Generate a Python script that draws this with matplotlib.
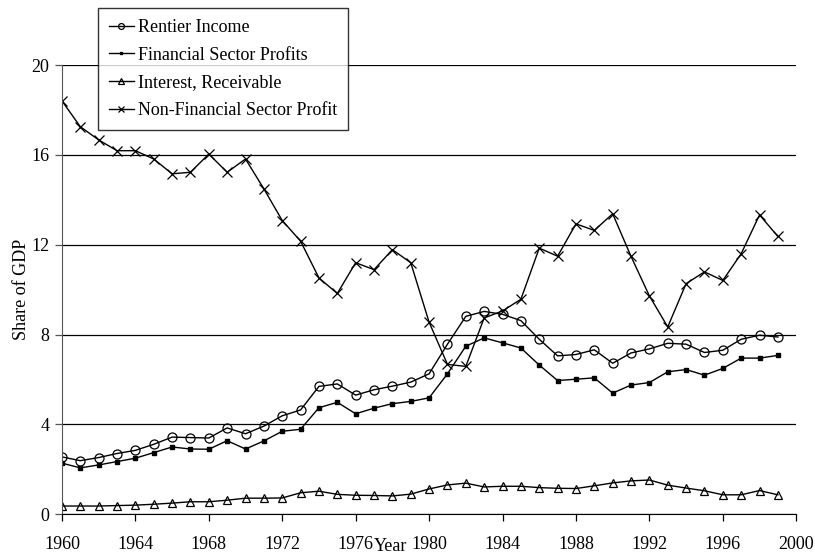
import matplotlib
matplotlib.use("Agg")
import matplotlib.pyplot as plt

plt.rcParams['font.family'] = ['Liberation Serif', 'DejaVu Serif']

years = list(range(1960, 2000))

rentier = [2.55, 2.38, 2.52, 2.70, 2.84, 3.11, 3.43, 3.41, 3.39, 3.84,
           3.58, 3.92, 4.38, 4.64, 5.69, 5.80, 5.30, 5.54, 5.70, 5.88,
           6.25, 7.57, 8.81, 9.03, 8.90, 8.62, 7.79, 7.05, 7.11, 7.32,
           6.72, 7.18, 7.36, 7.61, 7.57, 7.20, 7.30, 7.79, 7.97, 7.89]

financial = [2.27, 2.06, 2.19, 2.34, 2.49, 2.74, 2.99, 2.90, 2.89, 3.27,
             2.90, 3.26, 3.69, 3.78, 4.74, 4.98, 4.47, 4.72, 4.92, 5.02,
             5.18, 6.25, 7.48, 7.85, 7.63, 7.40, 6.64, 5.95, 6.01, 6.07,
             5.39, 5.75, 5.86, 6.34, 6.44, 6.19, 6.49, 6.95, 6.95, 7.07]

interest = [0.36, 0.36, 0.36, 0.38, 0.40, 0.44, 0.49, 0.55, 0.55, 0.62,
            0.71, 0.71, 0.72, 0.95, 1.02, 0.88, 0.84, 0.83, 0.81, 0.89,
            1.12, 1.30, 1.38, 1.21, 1.24, 1.24, 1.18, 1.15, 1.14, 1.26,
            1.39, 1.48, 1.52, 1.29, 1.16, 1.04, 0.86, 0.86, 1.05, 0.86]

nonfin = [18.41, 17.26, 16.67, 16.19, 16.19, 15.82, 15.16, 15.23, 16.04, 15.23,
          15.82, 14.49, 13.08, 12.16, 10.52, 9.83, 11.20, 10.89, 11.78, 11.20,
          8.55, 6.67, 6.58, 8.74, 9.05, 9.57, 11.85, 11.49, 12.93, 12.64,
          13.38, 11.48, 9.72, 8.34, 10.27, 10.79, 10.41, 11.60, 13.33, 12.37]

fig = plt.figure(figsize=(8.15, 5.57), dpi=100)
ax = fig.add_axes([0.076, 0.077, 0.901, 0.806])

ax.plot(years, rentier, color='black', lw=1, marker='o', ms=6.5,
        mfc='none', mec='black', mew=0.9, label='Rentier Income')
ax.plot(years, financial, color='black', lw=1, marker='s', ms=2.2,
        mfc='black', mec='black', label='Financial Sector Profits')
ax.plot(years, interest, color='black', lw=1, marker='^', ms=6,
        mfc='none', mec='black', mew=0.9, label='Interest, Receivable')
ax.plot(years, nonfin, color='black', lw=1, marker='x', ms=7,
        mec='black', mew=0.9, label='Non-Financial Sector Profit')

ax.set_xlim(1960, 2000)
ax.set_ylim(0, 20)
ax.set_xticks(range(1960, 2001, 4))
ax.set_yticks(range(0, 21, 4))
ax.yaxis.grid(True, color='black', lw=0.9)
ax.set_axisbelow(True)

for s in ['top', 'right']:
    ax.spines[s].set_visible(False)
ax.spines['left'].set_color('#555555')
ax.spines['bottom'].set_color('black')
ax.tick_params(axis='both', labelsize=13, direction='out', length=5, width=0.9)
ax.tick_params(axis='y', color='#555555', pad=4)
ax.tick_params(axis='x', pad=11)

ax.set_xlabel('Year', fontsize=13)
ax.xaxis.set_label_coords(0.448, -0.054)
ax.set_ylabel('Share of GDP', fontsize=13)
ax.yaxis.set_label_coords(-0.043, 0.50)

leg = fig.legend(loc='upper left', bbox_to_anchor=(0.1202, 0.9856), fontsize=13,
                 frameon=True, fancybox=False, edgecolor='black',
                 handlelength=1.4, handletextpad=0.2, borderpad=0.6,
                 labelspacing=0.6, borderaxespad=0, markerscale=0.65)
leg.get_frame().set_linewidth(1.0)

fig.savefig('out.png', dpi=100)
